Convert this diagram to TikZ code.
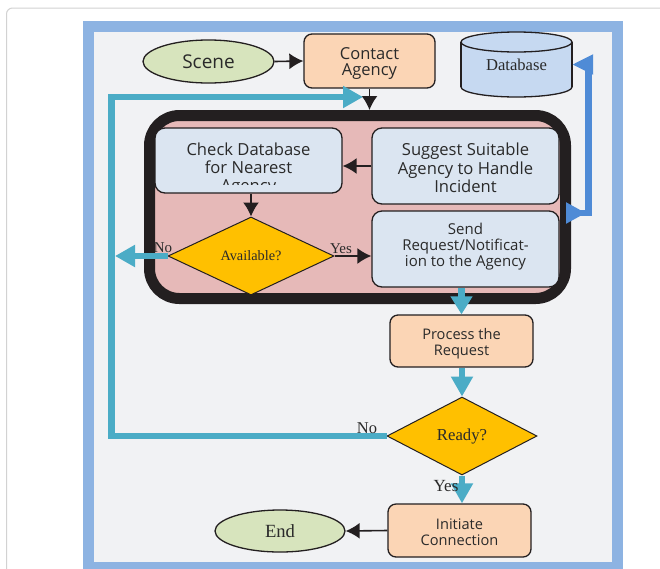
\documentclass[tikz,border=0pt]{standalone}
\usepackage{fontspec}
\setmainfont{Liberation Serif}
\newfontfamily\osans{Open Sans}
\usetikzlibrary{arrows.meta,shapes.geometric}
\definecolor{frameblue}{HTML}{8DB3E2}
\definecolor{bggray}{HTML}{F1F2F4}
\definecolor{cyanarr}{HTML}{4BACC6}
\definecolor{dbarr}{HTML}{4F8BD6}
\definecolor{pinkfill}{HTML}{E6B9B8}
\definecolor{lightbox}{HTML}{DBE5F1}
\definecolor{peach}{HTML}{FBD5B5}
\definecolor{greenfill}{HTML}{D7E4BD}
\definecolor{amber}{HTML}{FFC000}
\definecolor{dbfill}{HTML}{C6D9F1}
\definecolor{ink}{HTML}{231F20}
\definecolor{txt}{HTML}{2A2A2A}
\definecolor{cardline}{HTML}{D2D2D2}
\begin{document}
\begin{tikzpicture}[x=1pt,y=-1pt,
  peachbox/.style={draw=ink, line width=1.3pt, rounded corners=8pt, fill=peach, inner sep=0pt},
  bluebox/.style={draw=ink, line width=1.3pt, rounded corners=10pt, fill=lightbox, inner sep=0pt},
  oval/.style={ellipse, draw=ink, line width=1.3pt, fill=greenfill, inner sep=0pt, text=txt},
  decision/.style={diamond, draw=ink, line width=1pt, fill=amber, aspect=2, inner sep=2pt, text=txt},
  lbl/.style={text=txt, inner sep=0pt, align=center},
  blk/.style={draw=ink, line width=1.6pt, -{Latex[length=14pt,width=16pt]}},
  cyanflow/.style={draw=cyanarr, line width=6.5pt, -{Triangle[length=20pt,width=21pt]}},
  sansA/.style={font=\osans\fontsize{16.6}{18.3}\selectfont},
  sansB/.style={font=\osans\fontsize{14.6}{15.5}\selectfont},
]
\useasboundingbox (0,0) rectangle (660,568);
\fill[white] (0,0) rectangle (660,568);
\draw[cardline, line width=1pt, rounded corners=6pt] (6.5,620) -- (6.5,8) -- (720,8);
\draw[frameblue, line width=11pt, fill=bggray] (88.5,26.5) rectangle (617.5,567.5);

\coordinate (loopin) at (363,97);
\coordinate (availno) at (115,256);
\coordinate (dbout) at (566,213);

% top row
\node[oval, minimum width=131pt, minimum height=43pt, font=\osans\fontsize{19}{19}\selectfont] (scene) at (208.5,61.5) {Scene};
\node[peachbox, minimum width=131pt, minimum height=54pt] (contact) at (369.5,61) {};
\node[lbl, font=\osans\fontsize{16.5}{16}\selectfont] (contacttext) at ([yshift=-2.5pt]contact.center) {Contact\\Agency};

% database cylinder
\draw[ink, line width=1.3pt, fill=dbfill] (516.5,87) ellipse [x radius=55.5, y radius=10];
\fill[dbfill] (461,42) rectangle (572,87);
\draw[ink, line width=1.3pt] (461,42) -- (461,87) (572,42) -- (572,87);
\draw[ink, line width=1.3pt, fill=dbfill] (516.5,42) ellipse [x radius=55.5, y radius=10];
\node[minimum width=111pt, minimum height=65pt, inner sep=0pt, text=txt, font=\fontsize{16.6}{16}\selectfont] (db) at (516.5,64.5) {Database};

% group
\node[draw=ink, line width=11pt, rounded corners=30pt, fill=pinkfill, minimum width=416pt, minimum height=183pt, inner sep=0pt] (group) at (357.5,207) {};

\node[bluebox, minimum width=187pt, minimum height=65pt] (check) at (248.5,160.5) {};
\begin{scope}
\clip (150,128) rectangle (345,184);
\node[lbl, sansA, anchor=base] (checkA) at (248.5,155) {Check Database};
\node[lbl, sansA, anchor=base] (checkB) at (248.5,173) {for Nearest};
\node[lbl, sansA, anchor=base] (checkC) at (248.5,191) {Agency};
\end{scope}
\node[bluebox, minimum width=187pt, minimum height=76pt] (suggest) at (465.5,166) {};
\node[lbl, sansA] (suggesttext) at ([yshift=-2pt]suggest.center) {Suggest Suitable\\Agency to Handle\\Incident};
\node[bluebox, minimum width=187pt, minimum height=76pt] (send) at (465.5,249) {};
\node[lbl, font=\osans\fontsize{15}{16}\selectfont] (sendtext) at ([yshift=2pt]send.center) {Send\\Request/Notificat-\\ion to the Agency};
\node[decision, minimum width=166pt, minimum height=78pt, font=\fontsize{14.3}{15}\selectfont] (avail) at (251,256) {Available?};

% lower column
\node[peachbox, minimum width=143pt, minimum height=52pt] (process) at (461.5,341) {};
\node[lbl, sansB] (processtext) at ([yshift=-2.5pt]process.center) {Process the\\Request};
\node[decision, minimum width=150pt, minimum height=78pt, font=\fontsize{16.7}{17}\selectfont] (ready) at (462,436) {Ready?};
\node[peachbox, minimum width=143pt, minimum height=53pt] (initiate) at (459.5,530.5) {};
\node[lbl, sansB] (initiatetext) at ([yshift=-1.5pt]initiate.center) {Initiate\\Connection};
\node[oval, minimum width=130pt, minimum height=42pt, font=\fontsize{18.6}{19}\selectfont] (end) at (280,531) {End};

% connectors
\draw[blk] (scene.east) -- (contact.west);
\draw[blk] (contact.south) -- (contact.south |- group.north);
\draw[blk] (suggest.west) -- (suggest.west -| check.east);
\draw[blk] (avail.north |- check.south) -- (avail.north);
\draw[blk] (avail.east) -- (avail.east -| send.west);
\draw[blk] (initiate.west) -- (end.east);

\draw[cyanflow] (ready.west) -| (111.5,97) -- (loopin);
\draw[cyanflow] (avail.west) -- (availno);
\draw[cyanflow, -{Triangle[length=18pt,width=21pt]}] (process.north |- send.south) -- (process.north);
\draw[cyanflow] (ready.north |- process.south) -- (ready.north);
\draw[cyanflow] (ready.south) -- (ready.south |- initiate.north);
\draw[draw=dbarr, line width=6.5pt, {Triangle[reversed,length=20pt,width=20pt]}-{Triangle[length=21pt,width=19pt]}] (dbout) -| ([xshift=16.5pt]db.east) -- (db.east);

% labels
\node[lbl, font=\fontsize{15}{15}\selectfont] (availyes) at (341,249) {Yes};
\node[lbl, font=\fontsize{15}{15}\selectfont] (availnolbl) at (163,248) {No};
\node[lbl, font=\fontsize{16.5}{16.5}\selectfont] (readyno) at (367,428) {No};
\node[lbl, font=\fontsize{17}{17}\selectfont] (readyyes) at (446,486) {Yes};
\end{tikzpicture}
\end{document}
